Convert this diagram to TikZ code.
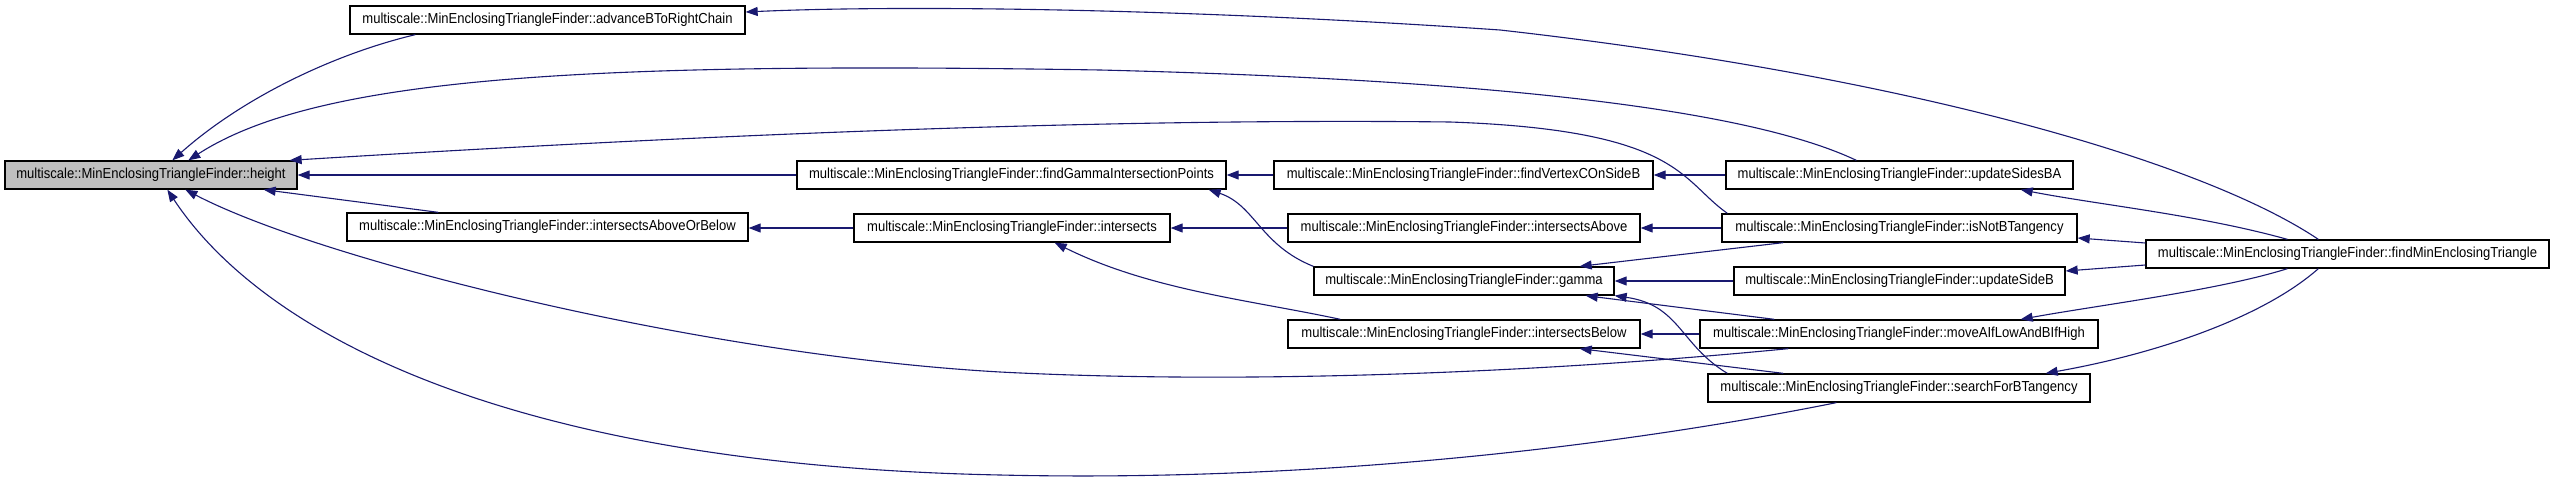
\documentclass[tikz,border=0pt]{standalone}
\usepackage{fontspec}
\setmainfont{Liberation Sans}[FakeStretch=0.9]
\usetikzlibrary{arrows.meta,calc}
\definecolor{edgeblue}{RGB}{25,25,112}
\definecolor{hlgray}{RGB}{191,191,191}
\begin{document}
\begin{tikzpicture}[x=1pt,y=-1pt,
  fn/.style={draw=black,line width=1.3pt,minimum height=28pt,inner sep=0pt,
    font=\fontsize{14.5}{16}\selectfont,fill=white,anchor=center},
  call/.style={draw=edgeblue,line width=1.1pt,-{Triangle[length=12pt,width=9pt]}}]
\useasboundingbox[fill=white] (0,0) rectangle (2555,484);
% nodes
\node[fn,fill=hlgray,minimum width=292pt] (height) at (151,175) {multiscale::MinEnclosingTriangleFinder::height};
\node[fn,minimum width=395pt] (advB) at (547.5,20) {multiscale::MinEnclosingTriangleFinder::advanceBToRightChain};
\node[fn,minimum width=401pt] (aob) at (547.5,227) {multiscale::MinEnclosingTriangleFinder::intersectsAboveOrBelow};
\node[fn,minimum width=429pt] (fgip) at (1011.5,175) {multiscale::MinEnclosingTriangleFinder::findGammaIntersectionPoints};
\node[fn,minimum width=379pt] (fvc) at (1463.5,175) {multiscale::MinEnclosingTriangleFinder::findVertexCOnSideB};
\node[fn,minimum width=316pt] (inter) at (1012,228) {multiscale::MinEnclosingTriangleFinder::intersects};
\node[fn,minimum width=352pt] (iabove) at (1464,228) {multiscale::MinEnclosingTriangleFinder::intersectsAbove};
\node[fn,minimum width=300pt] (gamma) at (1464,281) {multiscale::MinEnclosingTriangleFinder::gamma};
\node[fn,minimum width=352pt] (ibelow) at (1464,334) {multiscale::MinEnclosingTriangleFinder::intersectsBelow};
\node[fn,minimum width=347pt] (usba) at (1899.5,175) {multiscale::MinEnclosingTriangleFinder::updateSidesBA};
\node[fn,minimum width=355pt] (inbt) at (1899.5,228) {multiscale::MinEnclosingTriangleFinder::isNotBTangency};
\node[fn,minimum width=331pt] (usb) at (1899.5,281) {multiscale::MinEnclosingTriangleFinder::updateSideB};
\node[fn,minimum width=398pt] (maib) at (1899,334) {multiscale::MinEnclosingTriangleFinder::moveAIfLowAndBIfHigh};
\node[fn,minimum width=382pt] (sfbt) at (1899,388) {multiscale::MinEnclosingTriangleFinder::searchForBTangency};
\node[fn,minimum width=403pt] (fmet) at (2347.5,254) {multiscale::MinEnclosingTriangleFinder::findMinEnclosingTriangle};
% edges into height
\draw[call] ([xshift=66pt]advB.south west) .. controls (330,55) and (240,100) .. ([xshift=168pt]height.north west);
\draw[call] ([xshift=131pt]usba.north west) .. controls (1750,110) and (1500,80) .. (1100,70) .. controls (600,62) and (320,75) .. ([xshift=184pt]height.north west);
\draw[call] ([xshift=6pt]inbt.north west) .. controls (1680,180) and (1680,130) .. (1450,122) .. controls (1100,118) and (700,135) .. ([xshift=-8pt]height.north east);
\draw[call] (fgip.west) -- (height.east);
\draw[call] ([xshift=92pt]aob.north west) -- ([xshift=-34pt]height.south east);
\draw[call] ([xshift=89pt]maib.south west) .. controls (1550,372) and (1250,385) .. (1000,372) .. controls (700,355) and (320,260) .. ([xshift=181pt]height.south west);
\draw[call] ([xshift=129pt]sfbt.south west) .. controls (1600,450) and (1300,482) .. (1000,475) .. controls (500,465) and (260,330) .. ([xshift=163pt]height.south west);
% middle edges
\draw[call] (inter.west) -- (aob.east |- inter.west);
\draw[call] (fvc.west) -- (fgip.east);
\draw[call] (gamma.north west) .. controls (1260,245) and (1255,205) .. ([xshift=-18pt]fgip.south east);
\draw[call] (iabove.west) -- (inter.east);
\draw[call] ([xshift=53pt]ibelow.north west) .. controls (1250,300) and (1150,290) .. ([xshift=-116pt]inter.south east);
\draw[call] (usba.west) -- (fvc.east);
\draw[call] (inbt.west) -- (iabove.east);
\draw[call] ([xshift=62pt]inbt.south west) -- ([xshift=-35pt]gamma.north east);
\draw[call] (usb.west) -- (gamma.east);
\draw[call] ([xshift=75pt]maib.north west) -- ([xshift=-29pt]gamma.south east);
\draw[call] ([xshift=20pt]sfbt.north west) .. controls (1680,345) and (1680,305) .. (gamma.south east);
\draw[call] (maib.west) -- (ibelow.east);
\draw[call] ([xshift=76pt]sfbt.north west) -- ([xshift=-61pt]ibelow.south east);
% edges from findMinEnclosingTriangle
\draw[call] ([xshift=142pt]fmet.north west) .. controls (2200,215) and (2100,205) .. ([xshift=-53pt]usba.south east);
\draw[call] ([yshift=11pt]fmet.west) -- ([yshift=-10pt]inbt.east);
\draw[call] ([yshift=-11pt]fmet.west) -- ([yshift=10pt]usb.east);
\draw[call] ([xshift=142pt]fmet.south west) .. controls (2220,290) and (2100,305) .. ([xshift=-78pt]maib.north east);
\draw[call] ([xshift=173pt]fmet.south west) .. controls (2260,320) and (2150,355) .. ([xshift=-45pt]sfbt.north east);
\draw[call] ([xshift=173pt]fmet.north west) .. controls (2200,160) and (1900,75) .. (1500,30) .. controls (1180,8) and (900,5) .. ([yshift=8pt]advB.east);
\end{tikzpicture}
\end{document}
